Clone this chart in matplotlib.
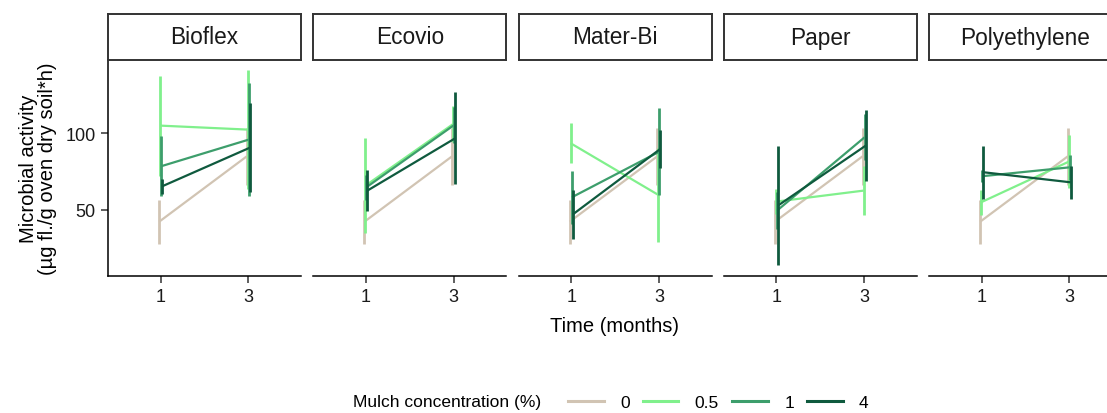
import matplotlib
matplotlib.use("Agg")
import matplotlib.pyplot as plt
from matplotlib.lines import Line2D
import numpy as np

plt.rcParams['font.family'] = ['Liberation Sans', 'DejaVu Sans']

W, H = 1107, 414

materials = ['Bioflex', 'Ecovio', 'Mater-Bi', 'Paper', 'Polyethylene']
times = ['1', '3']
concentrations = ['0', '0.5', '1', '4']
colors = ['#d1c4b3', '#80f08c', '#3d9e6c', '#0f5a3e']

# mean microbial activity per material, rows = concentration, cols = time (1, 3)
means = {
    'Bioflex':      [[42.3, 85.0], [105.0, 102.4], [78.5, 95.9], [65.4, 90.6]],
    'Ecovio':       [[42.3, 85.0], [65.8, 106.0], [64.8, 105.4], [62.6, 96.7]],
    'Mater-Bi':     [[42.3, 85.0], [93.5, 59.8], [58.2, 88.0], [47.0, 89.8]],
    'Paper':        [[42.3, 85.0], [55.4, 62.6], [49.5, 97.4], [52.8, 91.9]],
    'Polyethylene': [[42.3, 85.0], [55.0, 81.5], [72.0, 77.8], [74.6, 68.0]],
}
# half-width of the error bars
errors = {
    'Bioflex':      [[14.2, 18.5], [32.6, 39.0], [19.5, 36.7], [5.0, 29.0]],
    'Ecovio':       [[14.2, 18.5], [31.0, 12.0], [8.0, 12.0], [13.5, 30.0]],
    'Mater-Bi':     [[14.2, 18.5], [13.0, 30.5], [17.4, 28.3], [16.0, 12.4]],
    'Paper':        [[14.2, 18.5], [8.3, 16.0], [12.0, 15.0], [38.6, 23.3]],
    'Polyethylene': [[14.2, 18.5], [8.0, 17.4], [4.0, 8.0], [17.4, 10.6]],
}

dodge = [-0.017, -0.006, 0.006, 0.017]

fig = plt.figure(figsize=(W / 100, H / 100), dpi=100)

lefts = [108, 313.25, 518.5, 723.75, 929]
pw = 193
ax_bottom = (H - 277) / H
ax_h = 216 / H
strip_bottom = (H - 61) / H
strip_h = 46 / H

for i, mat in enumerate(materials):
    ax = fig.add_axes([lefts[i] / W, ax_bottom, pw / W, ax_h])
    m = np.array(means[mat])
    e = np.array(errors[mat])
    x = np.arange(len(times))
    for k, c in enumerate(concentrations):
        xs = x + dodge[k]
        ax.plot(xs, m[k], color=colors[k], lw=1.6, solid_capstyle='butt', zorder=2 + k)
        ax.vlines(xs, m[k] - e[k], m[k] + e[k], color=colors[k], lw=2.0, zorder=2 + k)
    ax.set_xlim(-0.6, 1.6)
    ax.set_ylim(6.9, 147.8)
    ax.set_xticks(x)
    ax.set_xticklabels(times)
    ax.set_yticks([50, 100])
    for s in ['top', 'right']:
        ax.spines[s].set_visible(False)
    ax.spines['bottom'].set_linewidth(1.1)
    ax.spines['left'].set_linewidth(1.1)
    ax.tick_params(axis='both', length=5, width=1.1, color='#333333', labelsize=13,
                   labelcolor='#1a1a1a', pad=4)
    if i == 0:
        ax.set_ylabel('Microbial activity\n(µg fl./g oven dry soil*h)', fontsize=14.5,
                      labelpad=6, linespacing=1.0)
    else:
        ax.spines['left'].set_visible(False)
        ax.tick_params(axis='y', left=False, labelleft=False)

    sax = fig.add_axes([lefts[i] / W, strip_bottom, pw / W, strip_h])
    sax.set_xticks([])
    sax.set_yticks([])
    for s in sax.spines.values():
        s.set_linewidth(1.4)
        s.set_color('#333333')
    sax.text(0.5, 0.5, mat, ha='center', va='center', fontsize=16.3,
             color='#1a1a1a', transform=sax.transAxes)

fig.text(615 / W, 1 - 326 / H, 'Time (months)', ha='center', va='center', fontsize=14.5)

ly = 1 - 403 / H
fig.text(353 / W, ly, 'Mulch concentration (%)', ha='left', va='center', fontsize=12.5)
handles = [Line2D([0], [0], color=colors[k], lw=2.2) for k in range(len(concentrations))]
fig.legend(handles, concentrations, loc='center left', bbox_to_anchor=(568 / W, ly),
           ncol=4, frameon=False, fontsize=12.5, handlelength=2.05, handletextpad=0.95,
           columnspacing=0.75, borderpad=0, borderaxespad=0)

fig.savefig('out.png', dpi=100)
